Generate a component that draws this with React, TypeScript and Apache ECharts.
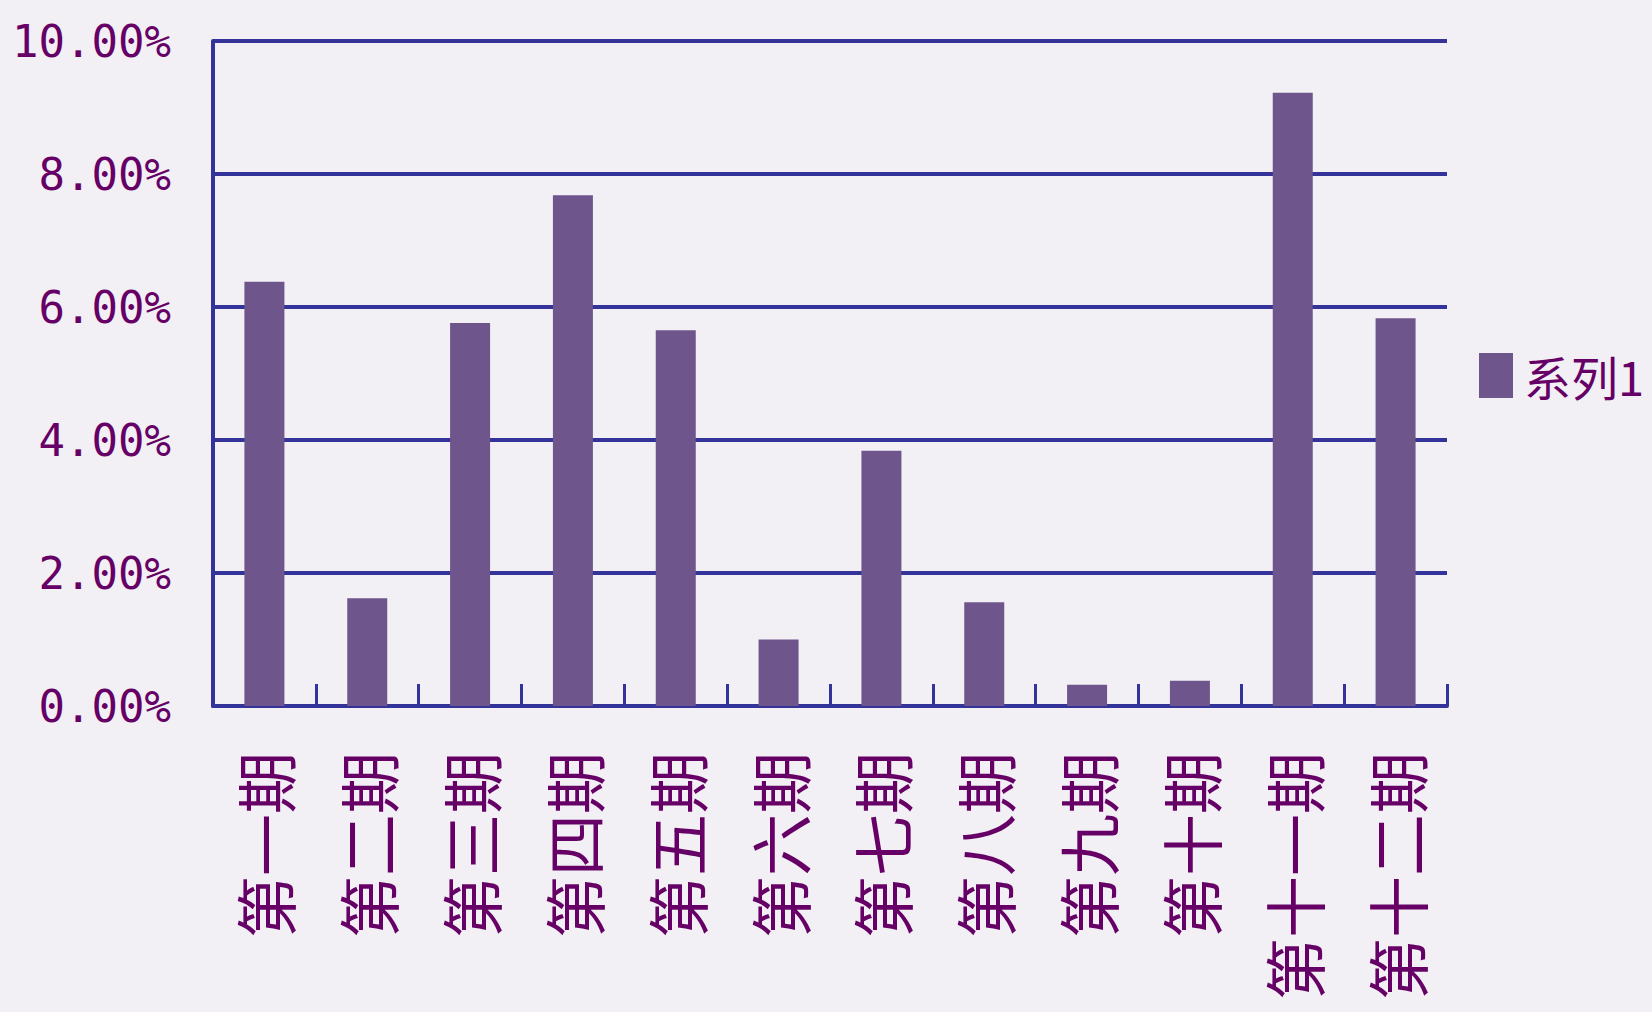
import React, { useEffect, useRef } from "react";
import * as echarts from "echarts";

const categories = ["第一期", "第二期", "第三期", "第四期", "第五期", "第六期", "第七期", "第八期", "第九期", "第十期", "第十一期", "第十二期"];
const seriesName = "系列1";
const values = [6.38, 1.62, 5.76, 7.68, 5.65, 1.0, 3.84, 1.56, 0.32, 0.38, 9.22, 5.83];
const yTicks = [0, 2, 4, 6, 8, 10];

const TEXT = "#660066";
const LINE = "#333399";
const BAR = "#6E558C";
const BG = "#F2F0F4";

export default function App() {
  const ref = useRef<HTMLDivElement>(null);
  useEffect(() => {
    if (!ref.current) return;
    const chart = echarts.init(ref.current, null, { renderer: "svg" });
    chart.setOption({
      animation: false,
      backgroundColor: BG,
      grid: { left: 213, top: 41, right: 205, bottom: 306, containLabel: false },
      legend: {
        show: true,
        left: 1474,
        top: 347,
        icon: "rect",
        itemWidth: 34,
        itemHeight: 45,
        data: [seriesName],
        textStyle: {
          color: TEXT,
          fontSize: 47,
          fontFamily: "Noto Sans CJK SC",
          padding: [0, 0, 0, 6],
        },
      },
      xAxis: {
        type: "category",
        data: categories,
        axisLine: { show: true, lineStyle: { color: LINE, width: 4 } },
        axisTick: { show: true, inside: true, length: 22, alignWithLabel: false, lineStyle: { color: LINE, width: 3 } },
        axisLabel: {
          rotate: 90,
          margin: 46,
          color: TEXT,
          fontSize: 62,
          fontFamily: "Noto Sans CJK SC",
          interval: 0,
        },
      },
      yAxis: {
        type: "value",
        min: yTicks[0],
        max: yTicks[yTicks.length - 1],
        interval: 2,
        axisLine: { show: true, lineStyle: { color: LINE, width: 4 } },
        axisTick: { show: false },
        splitLine: { show: true, lineStyle: { color: LINE, width: 4 } },
        axisLabel: {
          margin: 42,
          color: TEXT,
          fontSize: 44,
          fontFamily: "DejaVu Sans Mono",
          formatter: (v: number) => v.toFixed(2) + "%",
        },
      },
      series: [
        {
          name: seriesName,
          type: "bar",
          data: values,
          barWidth: 40,
          itemStyle: { color: BAR },
        },
      ],
    });
    return () => chart.dispose();
  }, []);
  return (
    <div
      ref={ref}
      style={{ position: "fixed", left: 0, top: 0, width: 1652, height: 1012 }}
    />
  );
}
